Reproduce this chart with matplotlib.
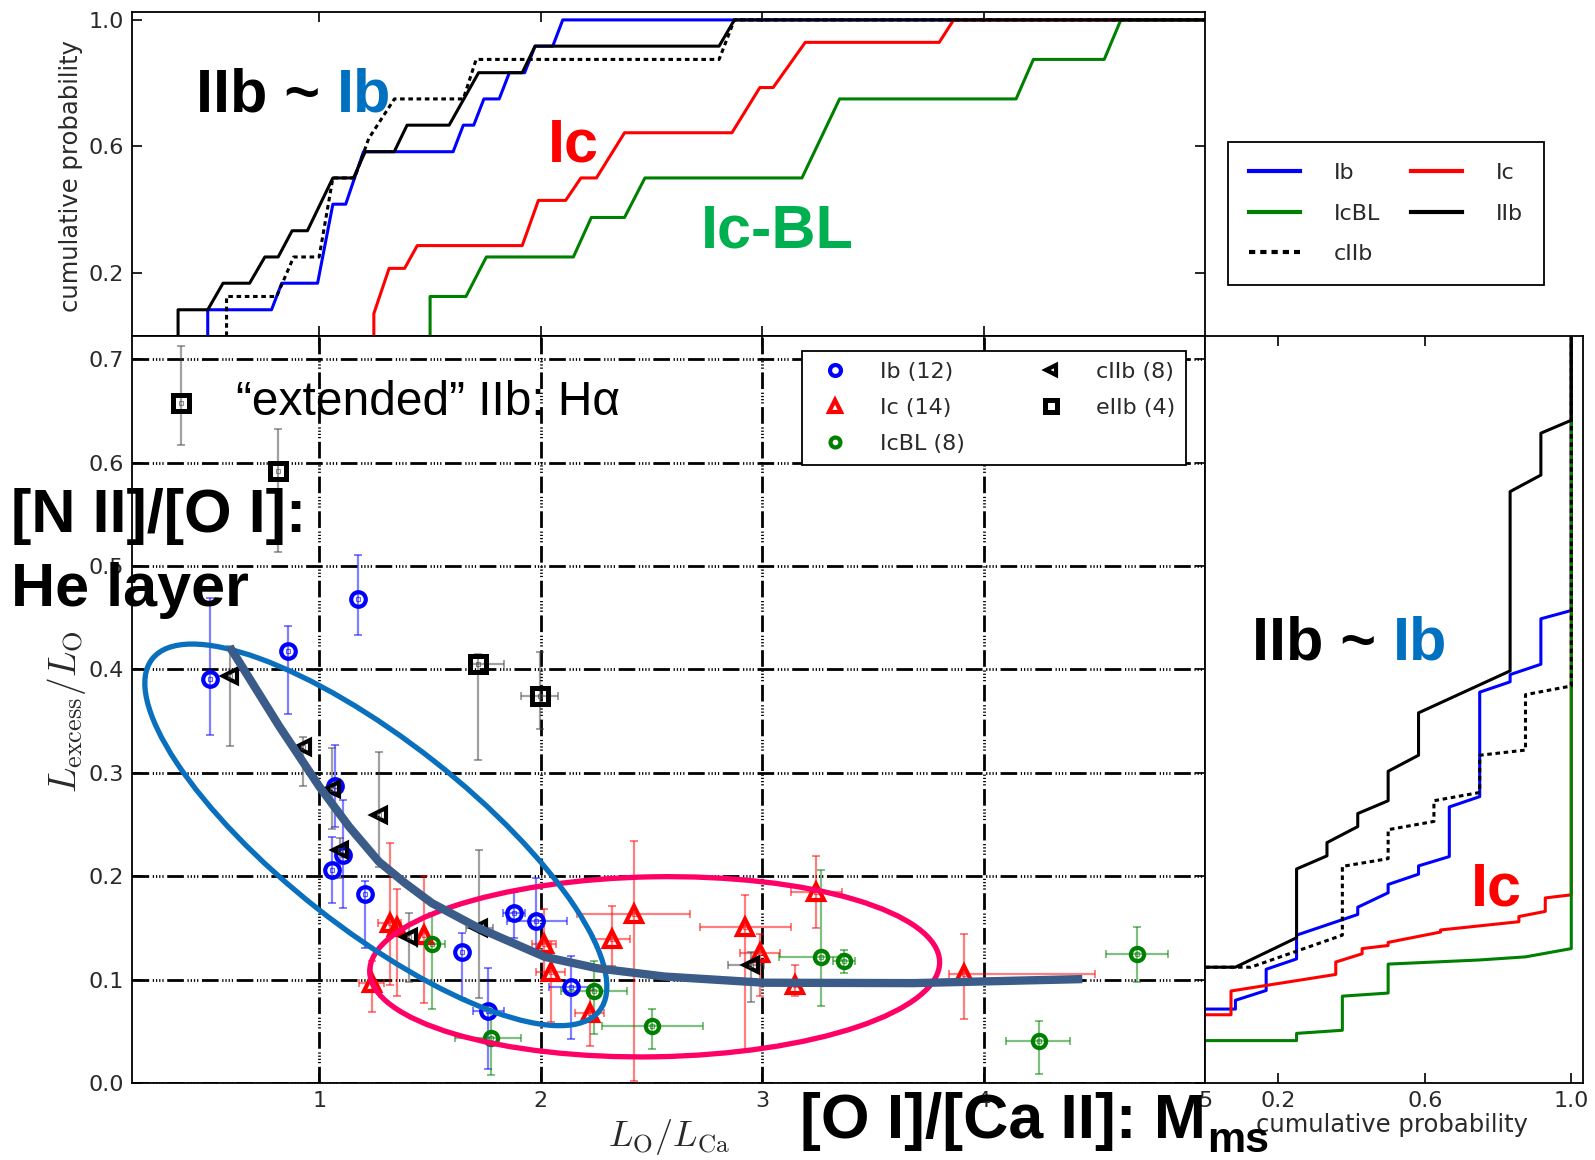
import matplotlib.pyplot as plt
import numpy as np
from matplotlib.patches import Ellipse
from matplotlib.text import Annotation
from matplotlib.transforms import ScaledTranslation

# ---------------- scatter data: L_O/L_Ca vs L_excess/L_O ----------------
ib_x = [0.506, 0.858, 1.177, 1.072, 1.109, 1.060, 1.207, 1.646, 1.764, 1.881, 1.977, 2.138]
ib_y = [0.391, 0.418, 0.468, 0.287, 0.221, 0.206, 0.183, 0.127, 0.070, 0.164, 0.157, 0.093]
ib_ylo = [0.054, 0.061, 0.035, 0.039, 0.052, 0.032, 0.052, 0.045, 0.056, 0.024, 0.031, 0.050]
ib_yhi = [0.078, 0.024, 0.043, 0.040, 0.053, 0.032, 0.012, 0.018, 0.041, 0.021, 0.041, 0.030]
ib_xlo = [0, 0, 0, 0, 0, 0, 0, 0, 0.07, 0.05, 0.13, 0.10]
ib_xhi = [0, 0, 0, 0, 0, 0, 0, 0, 0.07, 0.05, 0.14, 0.10]

ic_x = [1.237, 1.318, 1.352, 1.472, 2.016, 2.046, 2.221, 2.323, 2.420, 2.925, 2.990, 3.150, 3.244, 3.914]
ic_y = [0.097, 0.155, 0.151, 0.143, 0.134, 0.107, 0.068, 0.139, 0.163, 0.151, 0.126, 0.095, 0.185, 0.105]
ic_ylo = [0.028, 0.060, 0.067, 0.066, 0.034, 0.048, 0.032, 0.026, 0.161, 0.119, 0.042, 0.011, 0.035, 0.043]
ic_yhi = [0.021, 0.077, 0.037, 0.057, 0.034, 0.030, 0.022, 0.032, 0.071, 0.031, 0.018, 0.019, 0.035, 0.039]
ic_xlo = [0.057, 0.05, 0, 0, 0.055, 0.066, 0.066, 0.08, 0.255, 0.205, 0.09, 0, 0.115, 0.07]
ic_xhi = [0.057, 0.05, 0, 0, 0.055, 0.066, 0.066, 0.08, 0.255, 0.205, 0.09, 0, 0.115, 0.59]

icbl_x = [1.509, 1.774, 2.240, 2.505, 3.265, 3.370, 4.251, 4.693]
icbl_y = [0.134, 0.044, 0.089, 0.055, 0.122, 0.118, 0.041, 0.125]
icbl_ylo = [0.062, 0.036, 0.042, 0.022, 0.048, 0.012, 0.032, 0.027]
icbl_yhi = [0.030, 0.030, 0.029, 0.017, 0.084, 0.011, 0.019, 0.026]
icbl_xlo = [0.067, 0.16, 0.15, 0.23, 0.19, 0.05, 0.15, 0.14]
icbl_xhi = [0.060, 0.136, 0.15, 0.23, 0.09, 0.05, 0.14, 0.14]

ciib_x = [0.596, 0.928, 1.057, 1.270, 1.094, 1.407, 1.724, 2.948]
ciib_y = [0.394, 0.325, 0.284, 0.259, 0.225, 0.141, 0.150, 0.114]
ciib_ylo = [0.068, 0.038, 0.038, 0.050, 0.027, 0.043, 0.068, 0.036]
ciib_yhi = [0.029, 0.010, 0.040, 0.061, 0.012, 0.023, 0.075, 0.013]
ciib_xlo = [0, 0, 0, 0, 0, 0, 0.06, 0.10]
ciib_xhi = [0, 0, 0, 0, 0, 0, 0.06, 0.06]

eiib_x = [0.374, 0.816, 1.719, 1.996]
eiib_y = [0.658, 0.592, 0.405, 0.374]
eiib_ylo = [0.041, 0.078, 0.093, 0.032]
eiib_yhi = [0.055, 0.041, 0.010, 0.043]
eiib_xlo = [0, 0, 0.03, 0.083]
eiib_xhi = [0, 0, 0.117, 0.083]

# ---------------- cumulative distributions of L_O/L_Ca (top) ----------------
cdf_ib_x = [0.497, 0.497, 0.785, 0.831, 0.993, 1.062, 1.12, 1.2, 1.605, 1.651, 1.698, 1.744,
            1.813, 1.859, 1.928, 1.975, 2.055, 2.1, 5.0]
cdf_ib_p = [0, 0.083, 0.083, 0.167, 0.167, 0.417, 0.417, 0.583, 0.583, 0.667, 0.667, 0.75,
            0.75, 0.833, 0.833, 0.917, 0.917, 1.0, 1.0]
cdf_ic_x = [1.247, 1.247, 1.316, 1.386, 1.443, 1.917, 1.99, 2.113, 2.182, 2.252, 2.379, 2.864,
            2.99, 3.05, 3.195, 3.80, 3.865, 5.0]
cdf_ic_p = [0, 0.071, 0.214, 0.214, 0.286, 0.286, 0.429, 0.429, 0.5, 0.5, 0.643, 0.643,
            0.786, 0.786, 0.929, 0.929, 1.0, 1.0]
cdf_icbl_x = [1.501, 1.501, 1.663, 1.755, 2.148, 2.229, 2.379, 2.471, 3.18, 3.35, 4.147, 4.225,
              4.545, 4.62, 5.0]
cdf_icbl_p = [0, 0.125, 0.125, 0.25, 0.25, 0.375, 0.375, 0.5, 0.5, 0.75, 0.75, 0.875,
              0.875, 1.0, 1.0]
cdf_iib_x = [0.363, 0.363, 0.497, 0.566, 0.686, 0.755, 0.815, 0.878, 0.947, 1.062, 1.155, 1.208,
             1.339, 1.397, 1.587, 1.72, 1.917, 1.975, 2.806, 2.875, 5.0]
cdf_iib_p = [0, 0.083, 0.083, 0.167, 0.167, 0.25, 0.25, 0.333, 0.333, 0.5, 0.5, 0.583,
             0.583, 0.667, 0.667, 0.833, 0.833, 0.917, 0.917, 1.0, 1.0]
cdf_ciib_x = [0.582, 0.582, 0.808, 0.885, 1.0, 1.062, 1.16, 1.224, 1.34, 1.651, 1.709, 2.806, 2.875, 5.0]
cdf_ciib_p = [0, 0.125, 0.125, 0.25, 0.25, 0.5, 0.5, 0.625, 0.75, 0.75, 0.875, 0.875, 1.0, 1.0]

# ---------------- cumulative distributions of L_excess/L_O (right) ----------------
rcdf_ib_p = [0, 0.083, 0.083, 0.167, 0.167, 0.25, 0.25, 0.417, 0.417, 0.5, 0.5, 0.583, 0.583,
             0.667, 0.667, 0.75, 0.75, 0.833, 0.833, 0.917, 0.917, 1.0, 1.0]
rcdf_ib_y = [0.0715, 0.0715, 0.080, 0.0895, 0.110, 0.120, 0.143, 0.163, 0.170, 0.184, 0.192, 0.202, 0.210,
             0.219, 0.267, 0.277, 0.378, 0.388, 0.395, 0.405, 0.449, 0.457, 0.72]
rcdf_ic_p = [0, 0.071, 0.071, 0.357, 0.357, 0.429, 0.429, 0.5, 0.5, 0.643, 0.643, 0.857, 0.857,
             0.929, 0.929, 1.0, 1.0]
rcdf_ic_y = [0.066, 0.066, 0.089, 0.105, 0.117, 0.125, 0.130, 0.133, 0.136, 0.146, 0.148, 0.156, 0.161,
             0.166, 0.179, 0.182, 0.72]
rcdf_icbl_p = [0, 0.25, 0.25, 0.375, 0.375, 0.5, 0.5, 0.75, 0.875, 1.0, 1.0]
rcdf_icbl_y = [0.041, 0.041, 0.048, 0.051, 0.084, 0.087, 0.115, 0.119, 0.122, 0.130, 0.72]
rcdf_iib_p = [0, 0.083, 0.25, 0.25, 0.333, 0.333, 0.417, 0.417, 0.5, 0.5, 0.583, 0.583,
              0.833, 0.833, 0.917, 0.917, 1.0, 1.0]
rcdf_iib_y = [0.112, 0.112, 0.1405, 0.207, 0.2197, 0.2325, 0.248, 0.2606, 0.273, 0.3015, 0.317, 0.358,
              0.3986, 0.572, 0.588, 0.6285, 0.641, 0.72]
rcdf_ciib_p = [0, 0.125, 0.375, 0.375, 0.5, 0.5, 0.625, 0.625, 0.75, 0.75, 0.875, 0.875, 1.0, 1.0]
rcdf_ciib_y = [0.112, 0.112, 0.143, 0.2095, 0.217, 0.245, 0.253, 0.273, 0.281, 0.317, 0.322, 0.3756, 0.384, 0.72]

# hand-drawn trend curve
trend_x = [0.596, 0.820, 1.000, 1.135, 1.270, 1.390, 1.509, 1.719, 2.019, 2.255, 2.558, 3.008, 3.682, 4.446]
trend_y = [0.422, 0.345, 0.287, 0.248, 0.214, 0.193, 0.174, 0.150, 0.122, 0.111, 0.103, 0.097, 0.0966, 0.1005]

C_IB, C_IC, C_ICBL = '#0000ff', '#ff0000', '#008000'
PPT_BLUE, PPT_RED, PPT_GREEN = '#0070c0', '#ff0000', '#00b050'
TICK_GREY = '#2a2a2a'
BIG = dict(family='Liberation Sans', weight='bold', fontsize=44)

plt.rcParams['mathtext.fontset'] = 'cm'
plt.rcParams['font.family'] = ['DejaVu Sans']

W, H = 1595, 1160
fig = plt.figure(figsize=(W / 100, H / 100), dpi=100, facecolor='white')


def fx(px):
    return px / W


def fy(py):
    return 1 - py / H


left, right_main, right_side = 132, 1205, 1583
top_t, top_m, bot_m = 12, 336, 1083
ax_top = fig.add_axes([fx(left), fy(top_m), fx(right_main - left), fy(top_t) - fy(top_m)])
ax = fig.add_axes([fx(left), fy(bot_m), fx(right_main - left), fy(top_m) - fy(bot_m)])
ax_r = fig.add_axes([fx(right_main), fy(bot_m), fx(right_side - right_main), fy(top_m) - fy(bot_m)])

for a in (ax_top, ax, ax_r):
    for s in a.spines.values():
        s.set_linewidth(1.3)
    a.tick_params(direction='in', length=7, width=1.2, labelsize=16, labelcolor=TICK_GREY,
                  top=True, right=True, pad=6)

# ---- main scatter panel ----
grid_ls = (0, (6.0, 1.3, 0.45, 0.7, 0.45, 0.7, 0.45, 0.7, 0.45, 1.3))
ax.grid(True, color='k', lw=2.0, linestyle=grid_ls)


def draw_group(xs, ys, ylo, yhi, xlo, xhi, color, marker, ms, mew, label, ecolor=None):
    xs, ys = np.array(xs), np.array(ys)
    ec = ecolor or color
    ax.errorbar(xs, ys, yerr=[ylo, yhi], fmt='none', ecolor=ec, alpha=0.5,
                elinewidth=1.6, capsize=3, capthick=1.4, zorder=3)
    xlo, xhi = np.array(xlo), np.array(xhi)
    m = (xlo + xhi) > 0
    if m.any():
        ax.errorbar(xs[m], ys[m], xerr=[xlo[m], xhi[m]], fmt='none', ecolor=ec, alpha=0.5,
                    elinewidth=1.6, capsize=3, capthick=1.4, zorder=3)
    h, = ax.plot(xs, ys, ls='none', marker=marker, ms=ms, mfc='none', mec=color, mew=mew,
                 label=label, zorder=4)
    ax.plot(xs, ys, ls='none', marker='s', ms=3.2, mfc='none', mec=ec, mew=0.8, alpha=0.6, zorder=4)
    return h


h_ib = draw_group(ib_x, ib_y, ib_ylo, ib_yhi, ib_xlo, ib_xhi, C_IB, 'o', 10.5, 3.0, 'Ib (12)')
h_ic = draw_group(ic_x, ic_y, ic_ylo, ic_yhi, ic_xlo, ic_xhi, C_IC, '^', 11, 3.0, 'Ic (14)')
h_icbl = draw_group(icbl_x, icbl_y, icbl_ylo, icbl_yhi, icbl_xlo, icbl_xhi, C_ICBL, 'o', 9.5, 3.0, 'IcBL (8)')
h_ciib = draw_group(ciib_x, ciib_y, ciib_ylo, ciib_yhi, ciib_xlo, ciib_xhi, 'k', '<', 10.5, 3.0, 'cIIb (8)', '#444444')
h_eiib = draw_group(eiib_x, eiib_y, eiib_ylo, eiib_yhi, eiib_xlo, eiib_xhi, 'k', 's', 12, 3.6, 'eIIb (4)', '#444444')

ax.set_xlim(0.155, 5.0)
ax.set_ylim(0, 0.7225)
ax.set_xticks([1, 2, 3, 4, 5])
ax.set_yticks(np.arange(0, 0.71, 0.1))
ax.set_yticklabels(['%.1f' % v for v in np.arange(0, 0.71, 0.1)])

ax.legend(handles=[h_ib, h_ic, h_icbl, h_ciib, h_eiib], ncol=2, loc='upper left',
          bbox_to_anchor=(fx(802), fy(351)), bbox_transform=fig.transFigure, borderaxespad=0,
          fontsize=16, labelcolor=TICK_GREY, markerscale=0.75, numpoints=1, fancybox=False,
          framealpha=1, edgecolor='k', borderpad=0.5, handlelength=2.0, handletextpad=1.0,
          columnspacing=2.9, labelspacing=0.72).get_frame().set_linewidth(1.3)


# annotation shapes drawn in inches around a data-space centre
def inch_ellipse(cx, cy, w, h, angle, color, lw):
    tr = fig.dpi_scale_trans + ScaledTranslation(cx, cy, ax.transData)
    ax.add_patch(Ellipse((0, 0), w, h, angle=angle, fill=False, ec=color, lw=lw,
                         transform=tr, zorder=6))


inch_ellipse(2.515, 0.1124, 5.70, 1.80, 1.0, '#ff0066', 3.8)
inch_ellipse(1.256, 0.240, 5.69, 1.88, -38.2, '#0a70be', 3.8)
ax.plot(trend_x, trend_y, color='#3b5b88', lw=6, solid_capstyle='butt', solid_joinstyle='round', zorder=7)

# ---- top panel: cumulative L_O/L_Ca ----
lw_c = 2.2
l_ib, = ax_top.plot(cdf_ib_x, cdf_ib_p, color=C_IB, lw=lw_c, label='Ib')
l_ic, = ax_top.plot(cdf_ic_x, cdf_ic_p, color=C_IC, lw=lw_c, label='Ic')
l_icbl, = ax_top.plot(cdf_icbl_x, cdf_icbl_p, color=C_ICBL, lw=lw_c, label='IcBL')
l_iib, = ax_top.plot(cdf_iib_x, cdf_iib_p, color='k', lw=lw_c, label='IIb')
l_ciib, = ax_top.plot(cdf_ciib_x, cdf_ciib_p, color='k', lw=lw_c, ls=(0, (1.5, 1.2)), label='cIIb')
ax_top.set_xlim(0.155, 5.0)
ax_top.set_ylim(0, 1.025)
ax_top.set_xticks([1, 2, 3, 4])
ax_top.set_yticks([0.2, 0.6, 1.0])
ax_top.tick_params(labelbottom=False)

leg = ax_top.legend(handles=[l_ib, l_icbl, l_ciib, l_ic, l_iib], ncol=2, loc='upper left',
                    bbox_to_anchor=(fx(1228), fy(142)), bbox_transform=fig.transFigure,
                    borderaxespad=0, fontsize=16, labelcolor=TICK_GREY, fancybox=False,
                    framealpha=1, edgecolor='k', borderpad=0.95, handlelength=2.3,
                    handletextpad=1.5, columnspacing=1.4, labelspacing=0.92)
leg.get_frame().set_linewidth(1.3)
for ln in leg.get_lines():
    ln.set_linewidth(3)

# ---- right panel: cumulative L_excess/L_O ----
ax_r.plot(rcdf_ib_p, rcdf_ib_y, color=C_IB, lw=lw_c)
ax_r.plot(rcdf_ic_p, rcdf_ic_y, color=C_IC, lw=lw_c)
ax_r.plot(rcdf_icbl_p, rcdf_icbl_y, color=C_ICBL, lw=lw_c)
ax_r.plot(rcdf_iib_p, rcdf_iib_y, color='k', lw=lw_c)
ax_r.plot(rcdf_ciib_p, rcdf_ciib_y, color='k', lw=lw_c, ls=(0, (1.5, 1.2)))
ax_r.set_xlim(0, 1.032)
ax_r.set_ylim(0, 0.7225)
ax_r.set_xticks([0.2, 0.6, 1.0])
ax_r.set_yticks(np.arange(0, 0.71, 0.1))
ax_r.tick_params(axis='y', labelleft=False, left=False, right=False)

# ---- axis labels ----
fig.text(fx(71), fy(176), 'cumulative probability', rotation=90, ha='center', va='center',
         fontsize=17.5, color=TICK_GREY)
fig.text(fx(1392), fy(1125), 'cumulative probability', ha='center', va='center',
         fontsize=17.5, color=TICK_GREY)
fig.text(fx(66), fy(712), r'$L_{\rm excess}/L_{\rm O}$', rotation=90, ha='center', va='center',
         fontsize=27, color=TICK_GREY)
fig.text(fx(669), fy(1137), r'$L_{\rm O}/L_{\rm Ca}$', ha='center', va='center',
         fontsize=26, color=TICK_GREY)


# ---- overlaid slide labels ----
def tail_text(ref, text, dx, dy, va, **kw):
    # text continuing right after another text artist
    ann = Annotation(text, xy=(1, 0), xycoords=ref, xytext=(dx, dy), textcoords='offset points',
                     va=va, ha='left', annotation_clip=False, zorder=10, **kw)
    fig.add_artist(ann)


def two_tone(x, y, first, second, color2):
    t = fig.text(fx(x), fy(y), first, va='baseline', ha='left', color='k', zorder=10, **BIG)
    tail_text(t, second, 12, 0, 'bottom', color=color2, **BIG)


two_tone(196, 112, 'IIb ~', 'Ib', PPT_BLUE)
two_tone(1252, 660, 'IIb ~', 'Ib', PPT_BLUE)
fig.text(fx(548), fy(161), 'Ic', va='baseline', color=PPT_RED, zorder=10, **BIG)
fig.text(fx(1471), fy(906), 'Ic', va='baseline', color=PPT_RED, zorder=10, **BIG)
fig.text(fx(701), fy(247), 'Ic-BL', va='baseline', color=PPT_GREEN, zorder=10, **BIG)
fig.text(fx(11), fy(532), '[N II]/[O I]:', va='baseline', zorder=10, **BIG)
fig.text(fx(11), fy(606), 'He layer', va='baseline', zorder=10, **BIG)
fig.text(fx(236), fy(415), '\u201cextended\u201d IIb: H\u03b1', va='baseline', zorder=10,
         family='Liberation Sans', fontsize=34.5)
t_ms = fig.text(fx(800), fy(1138), '[O I]/[Ca II]: M', va='baseline', zorder=10,
                family='Liberation Sans', weight='bold', fontsize=45)
tail_text(t_ms, 'ms', 1, -1, 'baseline', color='k', family='Liberation Sans', weight='bold', fontsize=31)

fig.savefig('out.png', dpi=100, facecolor='white')
